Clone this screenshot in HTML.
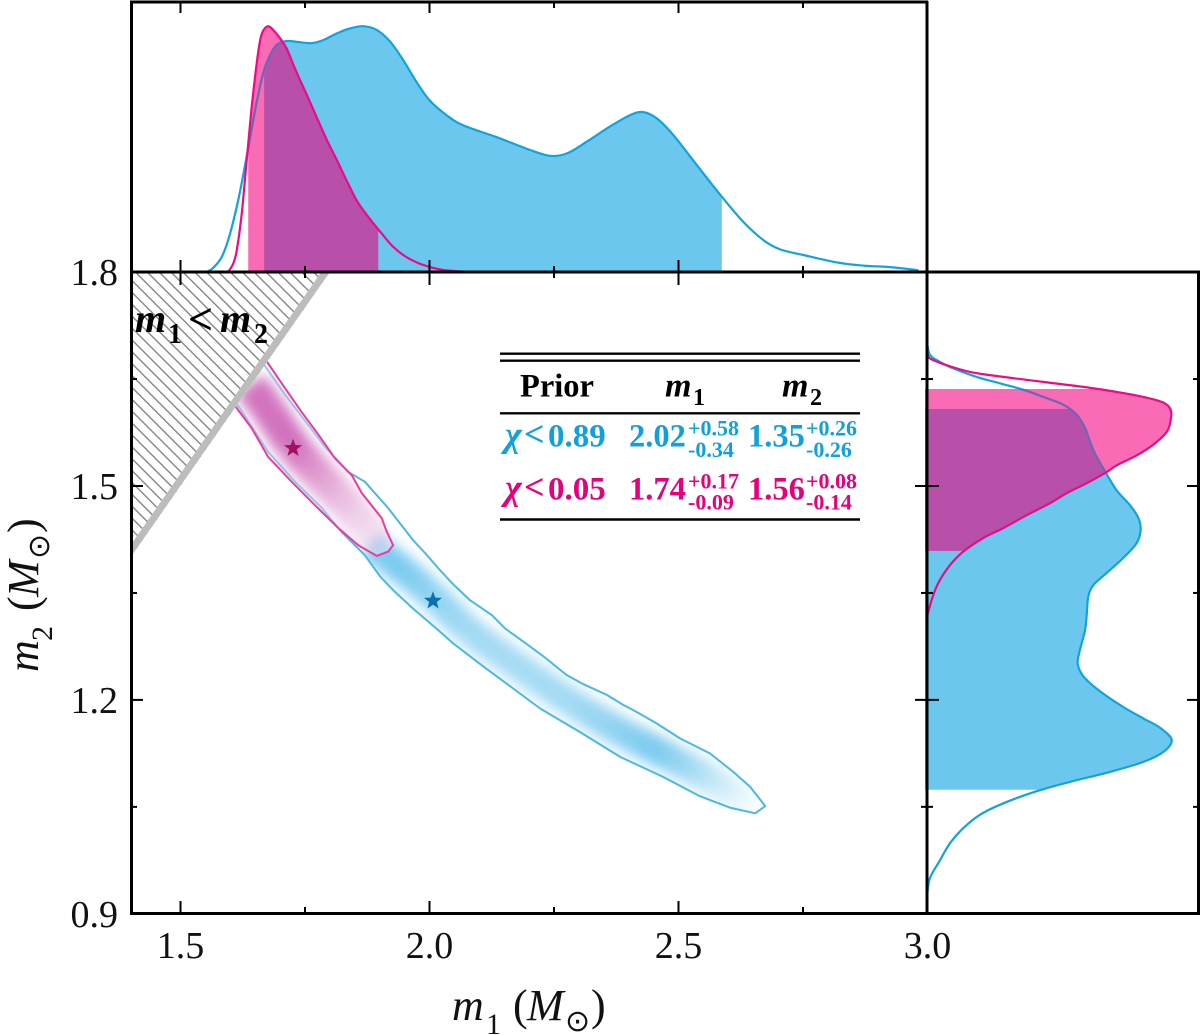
<!DOCTYPE html>
<html lang="en">
<head>
<meta charset="utf-8">
<title>Mass posterior corner plot</title>
<style>
html,body{margin:0;padding:0;background:#fff;}
svg{display:block;}
text{font-family:"Liberation Serif","DejaVu Serif",serif;}
.tick-label{font-size:38px;fill:#111;}
.title{font-size:44px;fill:#111;font-style:italic;}
.tbl{font-weight:bold;}
.sun{font-family:"DejaVu Sans",sans-serif;font-style:normal;}
</style>
</head>
<body>
<svg id="chart" xmlns="http://www.w3.org/2000/svg" width="1200" height="1035" viewBox="0 0 1200 1035">
  <defs>
    <pattern id="hatch" width="8.4" height="8.4" patternUnits="userSpaceOnUse" patternTransform="rotate(45)">
      <rect x="0" y="0" width="8.4" height="8.4" fill="#fff"></rect>
      <rect x="0" y="3.6" width="8.4" height="1.3" fill="#7d7d7d"></rect>
    </pattern>
    <filter id="soft" filterUnits="userSpaceOnUse" x="100" y="250" width="850" height="680">
      <feGaussianBlur stdDeviation="6.5"></feGaussianBlur>
    </filter>
    <clipPath id="clip-main"><rect x="131" y="272" width="796" height="641"></rect></clipPath>
  </defs>
  <rect x="0" y="0" width="1200" height="1035" fill="#fff"></rect>
  <g id="top-panel"></g>
  <g id="right-panel"></g>
  <g id="main-panel" clip-path="url(#clip-main)"></g>
  <g id="excluded" clip-path="url(#clip-main)"></g>

  <g font-weight="bold" font-style="italic" fill="#000">
    <text x="135" y="332" font-size="40">m</text>
    <text x="168" y="343" font-size="28" font-style="normal">1</text>
    <text x="188" y="334" font-size="44" font-style="normal">&lt;</text>
    <text x="220" y="332" font-size="40">m</text>
    <text x="254" y="343" font-size="28" font-style="normal">2</text>
  </g>

  <g id="frames" stroke="#000" stroke-width="3" fill="none">
    <line x1="130" y1="2" x2="928" y2="2"></line>
    <line x1="131.5" y1="1" x2="131.5" y2="915"></line>
    <line x1="130" y1="272" x2="1200" y2="272"></line>
    <line x1="927" y1="1" x2="927" y2="915"></line>
    <line x1="130" y1="913.5" x2="1200" y2="913.5"></line>
    <line x1="1198.5" y1="271" x2="1198.5" y2="915"></line>
  </g>
  <g id="ticks"></g>
  <g id="tick-labels"></g>

  <g class="title" transform="translate(452,1020)">
    <text x="0" y="0">m</text>
    <text x="34" y="14" font-size="30" font-style="normal">1</text>
    <text x="61" y="0" font-style="normal">(</text>
    <text x="75" y="0">M</text>
    <text x="113" y="11" class="sun" font-size="30">⊙</text>
    <text x="139" y="0" font-style="normal">)</text>
  </g>
  <g class="title" transform="translate(38,672) rotate(-90)">
    <text x="0" y="0">m</text>
    <text x="31" y="14" font-size="30" font-style="normal">2</text>
    <text x="61" y="0" font-style="normal">(</text>
    <text x="75" y="0">M</text>
    <text x="113" y="11" class="sun" font-size="30">⊙</text>
    <text x="139" y="0" font-style="normal">)</text>
  </g>

  <g class="tbl">
    <line x1="500" y1="353.7" x2="860" y2="353.7" stroke="#000" stroke-width="2.4"></line>
    <line x1="500" y1="360.7" x2="860" y2="360.7" stroke="#000" stroke-width="2.4"></line>
    <line x1="500" y1="413.3" x2="860" y2="413.3" stroke="#000" stroke-width="2.4"></line>
    <line x1="500" y1="519.5" x2="860" y2="519.5" stroke="#000" stroke-width="2.4"></line>
    <g fill="#000">
      <text x="520" y="396.5" font-size="32.5">Prior</text>
      <text x="665" y="396.5" font-size="34" font-style="italic">m</text>
      <text x="693" y="405" font-size="24">1</text>
      <text x="782" y="396.5" font-size="34" font-style="italic">m</text>
      <text x="810" y="405" font-size="24">2</text>
    </g>
    <g fill="#11a0dc">
      <text x="505" y="446.5" font-size="36" font-style="italic">χ</text>
      <text x="524" y="446" font-size="36">&lt;</text>
      <text x="548" y="446.5" font-size="33">0.89</text>
      <text x="629" y="446.5" font-size="32.5">2.02</text>
      <text x="688" y="435.5" font-size="22">+0.58</text>
      <text x="688" y="457" font-size="22">-0.34</text>
      <text x="748" y="446.5" font-size="32.5">1.35</text>
      <text x="806" y="435.5" font-size="22">+0.26</text>
      <text x="806" y="457" font-size="22">-0.26</text>
    </g>
    <g fill="#e6007e">
      <text x="505" y="499.5" font-size="36" font-style="italic">χ</text>
      <text x="524" y="499" font-size="36">&lt;</text>
      <text x="548" y="499.5" font-size="33">0.05</text>
      <text x="629" y="499.5" font-size="32.5">1.74</text>
      <text x="688" y="488.3" font-size="22">+0.17</text>
      <text x="688" y="509.5" font-size="22">-0.09</text>
      <text x="748" y="499.5" font-size="32.5">1.56</text>
      <text x="806" y="488.3" font-size="22">+0.08</text>
      <text x="806" y="509.5" font-size="22">-0.14</text>
    </g>
  </g>
</svg>

<script>
// ---- m1 marginal: blue prior
const blueM1Grid = [1.553,1.565,1.583,1.599,1.616,1.633,1.650,1.666,1.680,1.693,1.713,1.740,1.763,1.787,1.814,1.840,1.867,1.894,1.921,1.947,1.974,2.001,2.035,2.068,2.135,2.202,2.242,2.276,2.316,2.362,2.403,2.429,2.456,2.490,2.537,2.587,2.630,2.670,2.704,2.751,2.818,2.871,2.925,2.982];
const blueM1Density = [0.1,1.6,6.2,15.2,29.3,47,66,80.9,88.2,92.3,93.9,93.4,93,94.3,97,99,99.9,98.4,93.6,86.2,77.2,69.6,63.6,59.6,54.8,49.6,47.2,48.2,53,59.1,63.8,65,62.5,55.6,43.4,30.6,20.4,13,9.2,6.9,3.9,2.6,2,0.7];
const blueM1Interval = [1.668,2.587];
// ---- m1 marginal: pink prior
const pinkM1Grid = [1.596,1.606,1.613,1.623,1.633,1.643,1.653,1.660,1.666,1.676,1.686,1.700,1.713,1.727,1.740,1.753,1.773,1.794,1.814,1.834,1.854,1.874,1.901,1.927,1.954,1.988,2.028,2.075];
const pinkM1Density = [0.1,3.5,8.9,23.9,45.5,67.2,84.8,94.3,98.1,99.9,98.4,95,90.9,84.1,78,72.3,63.1,53.6,45.5,37,29,23.2,16.4,10.3,6,2.8,0.8,0.1];
const pinkM1Interval = [1.636,1.897];
// ---- m2 marginal: blue prior
const blueM2Grid = [1.702,1.684,1.674,1.665,1.653,1.644,1.635,1.625,1.614,1.600,1.581,1.550,1.525,1.494,1.473,1.455,1.438,1.420,1.399,1.378,1.361,1.345,1.321,1.298,1.270,1.251,1.233,1.212,1.190,1.174,1.161,1.144,1.127,1.113,1.099,1.085,1.072,1.055,1.039,1.020,0.999,0.975,0.950,0.924];
const blueM2Density = [0,1.2,5.3,10.7,20.3,29.8,39.4,47.5,55.7,61.2,64.6,68,72,77.5,83,86.4,87.3,85.7,80.2,73.4,68,65.9,65.3,64.6,62.5,61.6,63.9,70.7,80.2,88.4,95.2,100,96.6,88.4,74.8,58.4,44.8,31.2,21.7,14.8,9.4,5.3,1.2,0];
const blueM2Interval = [1.074,1.608];
// ---- m2 marginal: pink prior
const pinkM2Grid = [1.688,1.679,1.671,1.660,1.653,1.646,1.639,1.632,1.625,1.617,1.607,1.593,1.576,1.558,1.543,1.529,1.518,1.504,1.490,1.476,1.459,1.441,1.427,1.408,1.389,1.364,1.340,1.317];
const pinkM2Density = [0,1.2,6.7,17.6,31.2,47.5,63.9,77.5,88.4,96.6,99.6,99.6,98,92.5,85.7,77.5,72.7,65.3,57.1,50.3,40.7,31.2,23,14.8,9.4,4.6,1.9,0];
const pinkM2Interval = [1.409,1.636];
// ---- joint contours (m1, m2)
const blueContourM1 = [1.664,1.710,1.790,1.836,1.870,1.917,1.967,1.991,2.021,2.045,2.081,2.125,2.152,2.188,2.229,2.275,2.309,2.356,2.389,2.416,2.456,2.503,2.563,2.610,2.644,2.674,2.654,2.603,2.543,2.469,2.383,2.302,2.222,2.168,2.108,2.048,2.014,1.967,1.927,1.901,1.870,1.824,1.784,1.730,1.676,1.619,1.589];
const blueContourM2 = [1.674,1.628,1.555,1.520,1.506,1.469,1.424,1.406,1.382,1.364,1.340,1.319,1.300,1.282,1.261,1.235,1.222,1.207,1.193,1.183,1.167,1.146,1.125,1.099,1.078,1.051,1.041,1.049,1.065,1.092,1.120,1.155,1.188,1.216,1.247,1.279,1.300,1.328,1.354,1.373,1.403,1.435,1.469,1.506,1.548,1.609,1.642];
const pinkContourM1 = [1.664,1.676,1.710,1.743,1.777,1.810,1.844,1.864,1.904,1.914,1.927,1.917,1.894,1.857,1.817,1.770,1.723,1.676,1.643,1.613,1.589];
const pinkContourM2 = [1.684,1.672,1.637,1.604,1.572,1.539,1.515,1.490,1.455,1.436,1.417,1.408,1.402,1.417,1.441,1.473,1.506,1.541,1.581,1.609,1.637];
// ---- density ridges along each contour (m1, m2, relative intensity)
const blueRidgeM1 = [1.880,1.941,2.001,2.081,2.182,2.282,2.383,2.453,2.523,2.603,2.654];
const blueRidgeM2 = [1.418,1.385,1.350,1.295,1.245,1.197,1.155,1.130,1.104,1.074,1.048];
const blueRidgeLevel = [0.7,0.72,0.6,0.5,0.48,0.5,0.62,0.72,0.5,0.2,0.04];
const pinkRidgeM1 = [1.640,1.680,1.724,1.772,1.820,1.870,1.911];
const pinkRidgeM2 = [1.642,1.604,1.557,1.520,1.485,1.445,1.414];
const pinkRidgeLevel = [0.72,0.72,0.72,0.52,0.34,0.2,0.12];
// ---- best-fit stars
const blueStar = [2.007,1.339];
const pinkStar = [1.726,1.553];
// ---- axis ticks
const xMajorTicks = [1.5,2.0,2.5];
const xMinorTicks = [1.75,2.25,2.75];
const xTickLabels = ["1.5","2.0","2.5","3.0"];
const xLabelValues = [1.5,2.0,2.5,3.0];
const yMajorTicks = [1.5,1.2];
const yMinorTicks = [1.65,1.35,1.05];
const yTickLabels = ["1.8","1.5","1.2","0.9"];
const yLabelValues = [1.8,1.5,1.2,0.9];

const NS = "http://www.w3.org/2000/svg";
const xScale = v => 180.5 + (v - 1.5) * 498;
const yScale = v => 486 + (1.5 - v) * 713;
const topDensity = d => 272 - d * 2.46;
const rightDensity = d => 927 + d * 2.447;

function node(tag, attrs, parent) {
  const e = document.createElementNS(NS, tag);
  for (const k in attrs) e.setAttribute(k, attrs[k]);
  parent.appendChild(e);
  return e;
}
function smooth(p) {
  let d = "M" + p[0][0].toFixed(1) + " " + p[0][1].toFixed(1);
  for (let i = 0; i < p.length - 1; i++) {
    const a = p[Math.max(i - 1, 0)], b = p[i], c = p[i + 1], e = p[Math.min(i + 2, p.length - 1)];
    const c1 = [b[0] + (c[0] - a[0]) / 6, b[1] + (c[1] - a[1]) / 6];
    const c2 = [c[0] - (e[0] - b[0]) / 6, c[1] - (e[1] - b[1]) / 6];
    d += "C" + c1[0].toFixed(1) + " " + c1[1].toFixed(1) + " " + c2[0].toFixed(1) + " " + c2[1].toFixed(1) + " " + c[0].toFixed(1) + " " + c[1].toFixed(1);
  }
  return d;
}
const defs = document.querySelector("#chart defs");
function addClip(id, tag, attrs) {
  const c = node("clipPath", {id: id}, defs);
  node(tag, attrs, c);
}

function marginal(root, prefix, bluePts, pinkPts, closeFn, blueRect, pinkRect) {
  const bluePath = smooth(bluePts), pinkPath = smooth(pinkPts);
  const blueArea = bluePath + closeFn(bluePts), pinkArea = pinkPath + closeFn(pinkPts);
  addClip(prefix + "-blue-ci", "rect", blueRect);
  addClip(prefix + "-pink-ci", "rect", pinkRect);
  addClip(prefix + "-blue-area", "path", {d: blueArea});
  addClip(prefix + "-pink-area", "path", {d: pinkArea});

  const blueFill = node("path", {d: blueArea, fill: "#6cc7ee", "clip-path": "url(#" + prefix + "-blue-ci)"}, root);
  
  

  const pinkFill = node("path", {d: pinkArea, fill: "#f96bb5", "clip-path": "url(#" + prefix + "-pink-ci)"}, root);
  
  

  const g1 = node("g", {"clip-path": "url(#" + prefix + "-blue-ci)"}, root);
  const g2 = node("g", {"clip-path": "url(#" + prefix + "-blue-area)"}, g1);
  const overlap = node("path", {d: pinkArea, fill: "#b84fa8", "clip-path": "url(#" + prefix + "-pink-ci)"}, g2);
  
  

  const blueLine = node("path", {d: bluePath, fill: "none", stroke: "#12a3dc", "stroke-width": 2.2}, root);
  
  

  const g3 = node("g", {"clip-path": "url(#" + prefix + "-pink-ci)"}, root);
  const g4 = node("g", {"clip-path": "url(#" + prefix + "-pink-area)"}, g3);
  const tinted = node("path", {d: bluePath, fill: "none", stroke: "#7c60b2", "stroke-width": 2.2}, g4);
  
  

  const pinkLine = node("path", {d: pinkPath, fill: "none", stroke: "#ec0a85", "stroke-width": 2.2}, root);
  
  
}

// Top marginal
marginal(
  document.getElementById("top-panel"), "top",
  blueM1Grid.map((v, i) => [xScale(v), topDensity(blueM1Density[i])]),
  pinkM1Grid.map((v, i) => [xScale(v), topDensity(pinkM1Density[i])]),
  p => "L" + p[p.length - 1][0].toFixed(1) + " 272L" + p[0][0].toFixed(1) + " 272Z",
  {x: xScale(blueM1Interval[0]), y: 0, width: xScale(blueM1Interval[1]) - xScale(blueM1Interval[0]), height: 272},
  {x: xScale(pinkM1Interval[0]), y: 0, width: xScale(pinkM1Interval[1]) - xScale(pinkM1Interval[0]), height: 272}
);
// Right marginal
marginal(
  document.getElementById("right-panel"), "right",
  blueM2Grid.map((v, i) => [rightDensity(blueM2Density[i]), yScale(v)]),
  pinkM2Grid.map((v, i) => [rightDensity(pinkM2Density[i]), yScale(v)]),
  p => "L925 " + p[p.length - 1][1].toFixed(1) + "L925 " + p[0][1].toFixed(1) + "Z",
  {x: 925, y: yScale(blueM2Interval[1]), width: 275, height: yScale(blueM2Interval[0]) - yScale(blueM2Interval[1])},
  {x: 925, y: yScale(pinkM2Interval[1]), width: 275, height: yScale(pinkM2Interval[0]) - yScale(pinkM2Interval[1])}
);

// Joint panel
const mainPanel = document.getElementById("main-panel");
function contourPoints(a, b) {
  return a.map((v, i) => xScale(v).toFixed(1) + "," + yScale(b[i]).toFixed(1)).join(" ");
}
function heat(prefix, m1, m2, level, colour, width, clipPts) {
  addClip(prefix + "-contour-clip", "polygon", {points: clipPts});
  const outer = node("g", {"clip-path": "url(#" + prefix + "-contour-clip)"}, mainPanel);
  const inner = node("g", {filter: "url(#soft)"}, outer);
  const parts = 6;
  for (let i = 0; i < m1.length - 1; i++) {
    const x0 = xScale(m1[i]), y0 = yScale(m2[i]), x1 = xScale(m1[i + 1]), y1 = yScale(m2[i + 1]);
    for (let j = 0; j < parts; j++) {
      const s = j / parts, t = (j + 1) / parts;
      const seg = node("line", {
        x1: x0 + (x1 - x0) * s, y1: y0 + (y1 - y0) * s,
        x2: x0 + (x1 - x0) * t, y2: y0 + (y1 - y0) * t,
        stroke: colour, "stroke-width": width,
        "stroke-opacity": level[i] + (level[i + 1] - level[i]) * (s + t) / 2,
        "stroke-linecap": "butt"
      }, inner);
      
      
    }
  }
}
const bluePts = contourPoints(blueContourM1, blueContourM2);
const pinkPts = contourPoints(pinkContourM1, pinkContourM2);
heat("blue", blueRidgeM1, blueRidgeM2, blueRidgeLevel, "#45b6e8", 30, bluePts);

const blueContour = node("polygon", {points: bluePts, fill: "none", stroke: "#4bb7e6", "stroke-width": 2, "stroke-linejoin": "round"}, mainPanel);



const pinkBase = node("polygon", {points: pinkPts, fill: "#fff", "fill-opacity": 0.4}, mainPanel);



heat("pink", pinkRidgeM1, pinkRidgeM2, pinkRidgeLevel, "#bf3aa3", 34, pinkPts);

const pinkContour = node("polygon", {points: pinkPts, fill: "none", stroke: "#ea3d9b", "stroke-width": 2, "stroke-linejoin": "round"}, mainPanel);



function starPath(cx, cy, R) {
  let d = "";
  for (let i = 0; i < 10; i++) {
    const r = i % 2 ? R * 0.42 : R;
    const a = -Math.PI / 2 + i * Math.PI / 5;
    d += (i ? "L" : "M") + (cx + r * Math.cos(a)).toFixed(1) + " " + (cy + r * Math.sin(a)).toFixed(1);
  }
  return d + "Z";
}
const blueStarMark = node("path", {d: starPath(xScale(blueStar[0]), yScale(blueStar[1]), 9.5), fill: "#0b6fb4"}, mainPanel);



const pinkStarMark = node("path", {d: starPath(xScale(pinkStar[0]), yScale(pinkStar[1]), 9.5), fill: "#a3115e"}, mainPanel);



// Excluded m1 < m2 region
const excluded = document.getElementById("excluded");
const hatchTri = node("polygon", {
  points: [[1.4,1.4],[1.4,1.8],[1.8,1.8]].map(p => xScale(p[0]) + "," + yScale(p[1])).join(" "),
  fill: "url(#hatch)"
}, excluded);



const edge = node("line", {
  x1: xScale(1.4) - 3, y1: yScale(1.4) - 2, x2: xScale(1.8) - 3, y2: yScale(1.8) - 2,
  stroke: "#bcbcbc", "stroke-width": 7
}, excluded);



// Ticks
const ticksRoot = document.getElementById("ticks");
function tick(x1, y1, x2, y2, w) {
  const t = node("line", {x1: x1, y1: y1, x2: x2, y2: y2, stroke: "#000", "stroke-width": w}, ticksRoot);
  
  
}
xMajorTicks.forEach(v => {
  const x = xScale(v);
  tick(x, 2, x, 13, 2); tick(x, 260, x, 285, 2); tick(x, 901, x, 913, 2);
});
xMinorTicks.forEach(v => {
  const x = xScale(v);
  tick(x, 2, x, 8, 2); tick(x, 266, x, 278, 2); tick(x, 907, x, 913, 2);
});
yMajorTicks.forEach(v => {
  const y = yScale(v);
  tick(131, y, 143, y, 2); tick(915, y, 939, y, 2); tick(1187, y, 1199, y, 2);
});
yMinorTicks.forEach(v => {
  const y = yScale(v);
  tick(131, y, 137, y, 2); tick(921, y, 933, y, 2); tick(1193, y, 1199, y, 2);
});

// Tick labels
const labelsRoot = document.getElementById("tick-labels");
xTickLabels.forEach((s, i) => {
  const t = node("text", {x: xScale(xLabelValues[i]), y: 958, "text-anchor": "middle", class: "tick-label"}, labelsRoot);
  t.textContent = s;
  
  
});
yTickLabels.forEach((s, i) => {
  const t = node("text", {x: 118, y: yScale(yLabelValues[i]) + 13, "text-anchor": "end", class: "tick-label"}, labelsRoot);
  t.textContent = s;
  
  
});
</script>
</body>
</html>
